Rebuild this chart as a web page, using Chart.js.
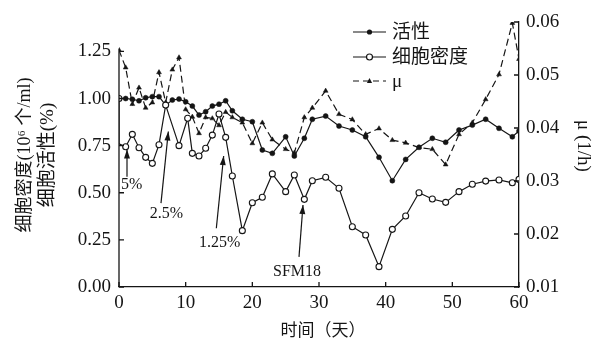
<!DOCTYPE html>
<html><head><meta charset="utf-8">
<script src="https://cdn.jsdelivr.net/npm/chart.js@4.4.0/dist/chart.umd.min.js"></script>
<style>html,body{margin:0;padding:0;background:#fff;}#wrap{width:598px;height:345px;}</style>
</head><body><div id="wrap"><canvas id="c" width="598" height="345"></canvas></div>
<script>
// ---- data ----
const activityDays = [0,1,2,3,4,5,6,7,8,9,10,11,12,13,14,15,16,17,18.5,20,21.5,23,25,26.3,27.8,29,31,33,35,37,39,41,43,45,47,49,51,53,55,57,59,60];
const activityValues = [1.0,1.0,0.996,0.988,1.004,1.01,1.01,0.965,0.992,0.997,0.983,0.96,0.912,0.93,0.96,0.97,0.988,0.935,0.89,0.877,0.727,0.709,0.797,0.695,0.789,0.89,0.907,0.854,0.833,0.797,0.688,0.564,0.677,0.741,0.789,0.768,0.833,0.859,0.89,0.842,0.797,0.828];

const densityDays = [0,0,1,2,3,4,5,6,7,9,10.3,11,12,13,14,15,16,17,18.5,20,21.5,23,25,26.3,27.8,29,31,33,35,37,39,41,43,45,47,49,51,53,55,57,59,60];
const densityValues = [1.0,0.76,0.744,0.81,0.739,0.688,0.656,0.755,0.965,0.75,0.895,0.709,0.695,0.736,0.806,0.918,0.794,0.589,0.299,0.447,0.476,0.6,0.506,0.594,0.465,0.564,0.582,0.524,0.32,0.276,0.108,0.306,0.377,0.5,0.467,0.449,0.506,0.545,0.562,0.568,0.553,0.571];

const muDays = [0,1,2,3,4,5,6,7,8,9,10,11,12,13,14,15,16,17,18.5,20,21.5,23,25,26.3,27.8,29,31,33,35,37,39,41,43,45,47,49,51,53,55,57,59,60];
const muValues = [0.0547,0.0514,0.0445,0.0476,0.0438,0.0448,0.0505,0.0448,0.051,0.0533,0.0435,0.0421,0.039,0.042,0.0418,0.0405,0.043,0.042,0.041,0.0371,0.041,0.0378,0.036,0.0353,0.042,0.0438,0.047,0.0426,0.0416,0.0388,0.0399,0.0377,0.0372,0.0363,0.036,0.0331,0.0388,0.041,0.0454,0.0501,0.0598,0.053];

const leftTicks = [0,0.25,0.5,0.75,1.0,1.25];
const rightTicks = [0.01,0.02,0.03,0.04,0.05,0.06];
const xTicks = [0,10,20,30,40,50,60];

const legendLabels = ['活性','细胞密度','μ'];
const xTitle = '时间（天）';
const leftTitleLines = ['细胞密度(10⁶ 个/ml)','细胞活性(%)'];
const rightTitle = 'μ (1/h)';

// annotations: [text, textDay, textValue, arrowFromDay, arrowFromValue, arrowToDay, arrowToValue]
const annotations = [
  ['5%', 1.9, 0.54, 1.2, 0.585, 1.2, 0.73],
  ['2.5%', 7.1, 0.39, 6.3, 0.445, 7.4, 0.825],
  ['1.25%', 15.1, 0.232, 14.6, 0.312, 15.7, 0.695],
  ['SFM18', 26.7, 0.08, 27.0, 0.16, 27.6, 0.435]
];

const INK = '#151515';
const SERIF = "'Liberation Serif','Noto Sans CJK SC',serif";
const CJK = "'Liberation Serif','Noto Sans CJK SC',serif";

const toXY = (d, v) => d.map((x, i) => ({x, y: v[i]}));

const drawTri = (ctx, x, y, r) => {
  ctx.beginPath();
  ctx.moveTo(x, y - r * 1.2);
  ctx.lineTo(x + r, y + r * 0.8);
  ctx.lineTo(x - r, y + r * 0.8);
  ctx.closePath();
  ctx.fill();
};

const extras = {
  id: 'extras',
  afterDraw(chart) {
    const ctx = chart.ctx;
    const sx = chart.scales.x, sy = chart.scales.y, sr = chart.scales.y1;
    const ca = chart.chartArea;
    ctx.save();
    ctx.strokeStyle = INK; ctx.fillStyle = INK; ctx.lineWidth = 1.3;
    // left axis line (only up to the top tick)
    ctx.beginPath();
    ctx.moveTo(ca.left, sy.getPixelForValue(0));
    ctx.lineTo(ca.left, sy.getPixelForValue(1.265));
    ctx.stroke();
    // inward ticks
    ctx.beginPath();
    leftTicks.forEach(v => { const p = sy.getPixelForValue(v); ctx.moveTo(ca.left, p); ctx.lineTo(ca.left + 5, p); });
    rightTicks.forEach(v => { const p = sr.getPixelForValue(v); ctx.moveTo(ca.right, p); ctx.lineTo(ca.right - 5, p); });
    xTicks.forEach(v => { const p = sx.getPixelForValue(v); ctx.moveTo(p, ca.bottom); ctx.lineTo(p, ca.bottom - 5); });
    ctx.stroke();

    // axis titles
    ctx.textAlign = 'center'; ctx.textBaseline = 'middle';
    ctx.save(); ctx.translate(25, 155); ctx.rotate(-Math.PI / 2);
    ctx.font = "18px " + CJK; ctx.fillText(leftTitleLines[0], 0, 0); ctx.restore();
    ctx.save(); ctx.translate(48, 155); ctx.rotate(-Math.PI / 2);
    ctx.font = "19px " + CJK; ctx.fillText(leftTitleLines[1], 0, 0); ctx.restore();
    ctx.save(); ctx.translate(583, 146); ctx.rotate(Math.PI / 2);
    ctx.font = "19px " + SERIF; ctx.fillText(rightTitle, 0, 0); ctx.restore();
    ctx.font = "17px " + CJK;
    ctx.fillText(xTitle, (ca.left + ca.right) / 2 + 4, 332);

    // annotations
    annotations.forEach(([t, td, tv, fd, fv, ad, av]) => {
      ctx.font = "16px " + SERIF;
      ctx.fillText(t, sx.getPixelForValue(td), sy.getPixelForValue(tv));
      const x1 = sx.getPixelForValue(fd), y1 = sy.getPixelForValue(fv);
      const x2 = sx.getPixelForValue(ad), y2 = sy.getPixelForValue(av);
      ctx.lineWidth = 1.2;
      ctx.beginPath(); ctx.moveTo(x1, y1); ctx.lineTo(x2, y2); ctx.stroke();
      const ang = Math.atan2(y2 - y1, x2 - x1);
      const L = 9, W = 3;
      ctx.beginPath();
      ctx.moveTo(x2, y2);
      ctx.lineTo(x2 - L * Math.cos(ang) + W * Math.sin(ang), y2 - L * Math.sin(ang) - W * Math.cos(ang));
      ctx.lineTo(x2 - L * Math.cos(ang) - W * Math.sin(ang), y2 - L * Math.sin(ang) + W * Math.cos(ang));
      ctx.closePath(); ctx.fill();
    });

    // legend
    const lx0 = 353, lx1 = 386, tx = 392;
    const rows = [32, 57, 81];
    ctx.lineWidth = 1.2; ctx.textAlign = 'left';
    rows.forEach((y, i) => {
      ctx.setLineDash(i === 2 ? [6, 4] : []);
      ctx.beginPath(); ctx.moveTo(lx0, y); ctx.lineTo(lx1, y); ctx.stroke();
      ctx.setLineDash([]);
      const mx = (lx0 + lx1) / 2;
      if (i === 0) { ctx.beginPath(); ctx.arc(mx, y, 2.6, 0, Math.PI * 2); ctx.fill(); }
      else if (i === 1) { ctx.beginPath(); ctx.arc(mx, y, 3, 0, Math.PI * 2); ctx.fillStyle = '#fff'; ctx.fill(); ctx.fillStyle = INK; ctx.stroke(); }
      else { drawTri(ctx, mx, y, 2.6); }
      ctx.font = (i === 2 ? "19px " + SERIF : "19px " + CJK);
      ctx.fillText(legendLabels[i], tx, y + 1);
    });
    ctx.restore();
  }
};

const tickFont = {family: SERIF, size: 19};

new Chart(document.getElementById('c'), {
  type: 'line',
  data: {
    datasets: [
      {
        label: legendLabels[1], data: toXY(densityDays, densityValues), yAxisID: 'y',
        borderColor: INK, borderWidth: 1.2, pointStyle: 'circle',
        pointRadius: ctx => (ctx.dataIndex === 1 ? 0 : 3), pointBackgroundColor: '#fff',
        pointBorderColor: INK, pointBorderWidth: 1.1, tension: 0
      },
      {
        label: legendLabels[2], data: toXY(muDays, muValues), yAxisID: 'y1',
        borderColor: INK, borderWidth: 1.2, borderDash: [7, 4], pointStyle: 'triangle',
        pointRadius: 2.8, pointBackgroundColor: INK, pointBorderColor: INK, pointBorderWidth: 0.5, tension: 0
      },
      {
        label: legendLabels[0], data: toXY(activityDays, activityValues), yAxisID: 'y',
        borderColor: INK, borderWidth: 1.2, pointStyle: 'circle',
        pointRadius: 2.5, pointBackgroundColor: INK, pointBorderColor: INK, pointBorderWidth: 0.5, tension: 0
      }
    ]
  },
  options: {
    responsive: false, animation: false, devicePixelRatio: 1,
    layout: {padding: {top: 22, left: 0, right: 0, bottom: 0}},
    plugins: {legend: {display: false}, tooltip: {enabled: false}},
    scales: {
      x: {
        type: 'linear', min: 0, max: 60,
        afterBuildTicks: s => { s.ticks = xTicks.map(v => ({value: v})); },
        afterFit: s => { s.height = 58; },
        ticks: {font: tickFont, color: INK, padding: 5, maxRotation: 0, callback: v => String(v)},
        grid: {display: false, drawTicks: false},
        border: {display: true, color: INK, width: 1.3}
      },
      y: {
        type: 'linear', position: 'left', min: 0, max: 1.406,
        afterBuildTicks: s => { s.ticks = leftTicks.map(v => ({value: v})); },
        afterFit: s => { s.width = 119; },
        ticks: {font: tickFont, color: INK, padding: 8, callback: v => Number(v).toFixed(2)},
        grid: {display: false, drawTicks: false},
        border: {display: false}
      },
      y1: {
        type: 'linear', position: 'right', min: 0.01, max: 0.06,
        afterBuildTicks: s => { s.ticks = rightTicks.map(v => ({value: v})); },
        afterFit: s => { s.width = 79; },
        ticks: {font: tickFont, color: INK, padding: 7, callback: v => Number(v).toFixed(2)},
        grid: {display: false, drawTicks: false},
        border: {display: true, color: INK, width: 1.3}
      }
    }
  },
  plugins: [extras]
});
</script>
</body></html>
